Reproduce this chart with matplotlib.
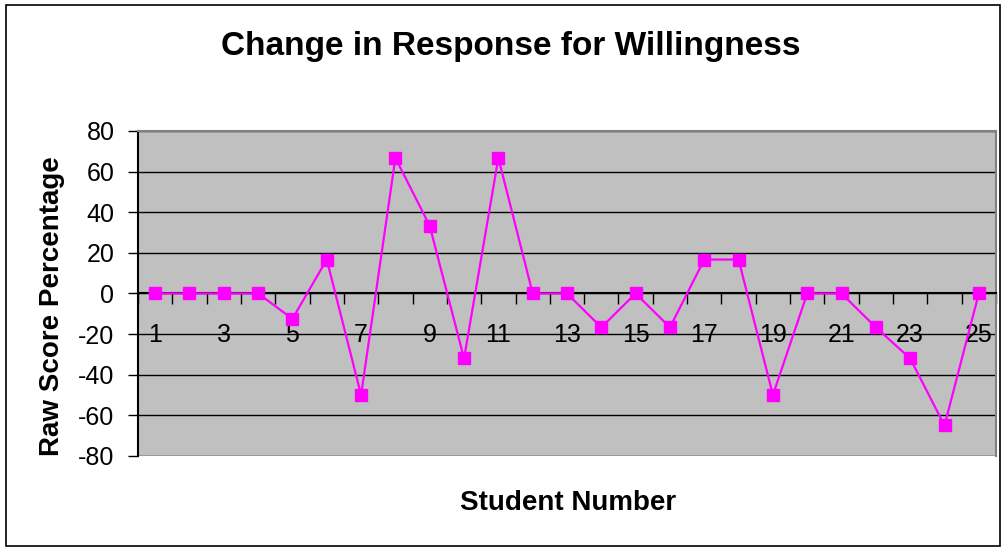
import matplotlib.pyplot as plt
from matplotlib.patches import Rectangle
from matplotlib.ticker import FixedLocator

plt.rcParams['font.family'] = ['Liberation Sans', 'DejaVu Sans']

students = list(range(1, 26))
change = [0, 0, 0, 0, -12.5, 16.7, -50, 66.7, 33.3, -32, 66.7, 0, 0,
          -16.7, 0, -16.7, 16.7, 16.7, -50, 0, 0, -16.7, -32, -65, 0]
yticks = [-80, -60, -40, -20, 0, 20, 40, 60, 80]
xlabels = [1, 3, 5, 7, 9, 11, 13, 15, 17, 19, 21, 23, 25]

fig = plt.figure(figsize=(10.03, 5.48), dpi=100)
ax = fig.add_axes([0.1376, 0.168, 0.8554, 0.593])
ax.set_facecolor('#C0C0C0')

ax.plot(students, change, color='#FF00FF', lw=1.6, marker='s',
        markersize=9, markeredgecolor='#FF00FF', zorder=5, clip_on=False)

ax.set_xlim(0.5, 25.5)
ax.set_ylim(-80, 80)
ax.set_yticks(yticks)
ax.set_yticklabels([str(v) for v in yticks], fontsize=18)
for v in yticks:
    ax.axhline(v, color='black', lw=1, zorder=1)

ax.spines['bottom'].set_position(('data', 0))
ax.spines['bottom'].set_color('black')
ax.spines['left'].set_color('black')
ax.spines['top'].set_color('#808080')
ax.spines['right'].set_color('#808080')
for s in ax.spines.values():
    s.set_linewidth(1.5)

ax.xaxis.set_major_locator(FixedLocator(xlabels))
ax.set_xticklabels([str(v) for v in xlabels], fontsize=18)
ax.xaxis.set_minor_locator(FixedLocator([i + 0.5 for i in range(0, 26)]))
ax.tick_params(axis='x', which='major', length=0, pad=21)
ax.tick_params(axis='x', which='minor', length=8, direction='out', width=1)
ax.tick_params(axis='y', length=7, direction='out', width=1, pad=10)

fig.text(0.5095, 0.915, 'Change in Response for Willingness', ha='center',
         va='center', fontsize=24, fontweight='bold')
fig.text(0.052, 0.442, 'Raw Score Percentage', rotation=90, ha='center',
         va='center', fontsize=20, fontweight='bold')
fig.text(0.566, 0.082, 'Student Number', ha='center', va='center',
         fontsize=20, fontweight='bold')

fig.patches.append(Rectangle((0.006, 0.003), 0.991, 0.988, transform=fig.transFigure,
                             fill=False, edgecolor='black', lw=1.2))

fig.savefig('out.png', dpi=100)
